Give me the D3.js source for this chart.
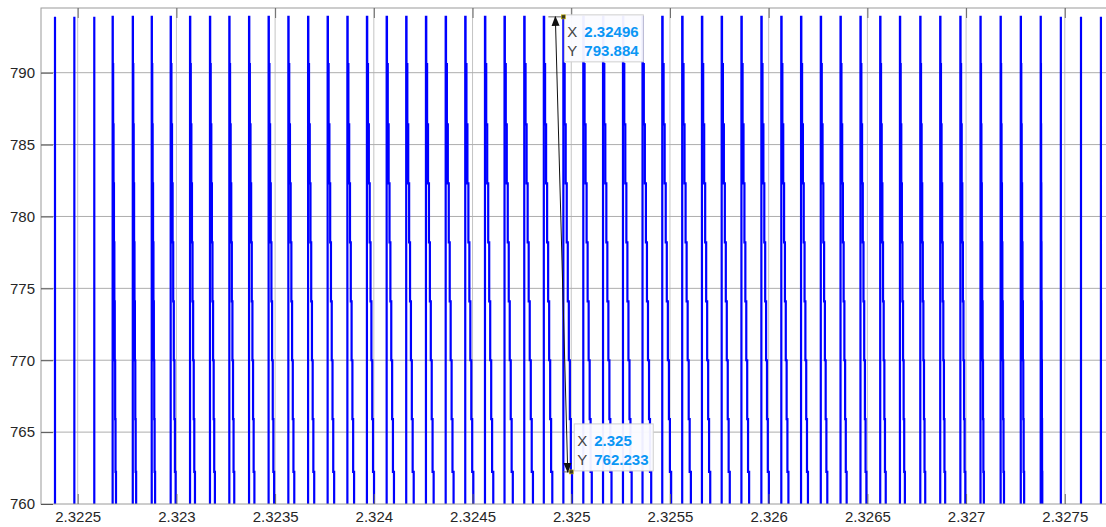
<!DOCTYPE html>
<html><head><meta charset="utf-8">
<script src="https://cdn.jsdelivr.net/npm/d3@7"></script>
<style>
html,body{margin:0;padding:0;background:#fff;overflow:hidden}
svg{display:block}
text{font-family:"Liberation Sans",Arial,Helvetica,sans-serif}
</style></head><body>
<svg id="chart" width="1106" height="527"></svg>
<script>
// Rise instants of each pulse (s)
const pulseTimes = [
  2.322385, 2.322483, 2.322584, 2.322677, 2.322779, 2.322875, 2.322971, 2.323069, 2.323170, 2.323268,
  2.323368, 2.323467, 2.323567, 2.323667, 2.323766, 2.323866, 2.323965, 2.324065, 2.324164, 2.324264,
  2.324364, 2.324463, 2.324563, 2.324662, 2.324762, 2.324861, 2.324960, 2.325061, 2.325161, 2.325262,
  2.325361, 2.325461, 2.325562, 2.325662, 2.325762, 2.325862, 2.325963, 2.326064, 2.326164, 2.326264,
  2.326364, 2.326465, 2.326565, 2.326665, 2.326768, 2.326869, 2.326971, 2.327073, 2.327175, 2.327277,
  2.327378, 2.327480, 2.327582, 2.327683
];
// Duration of the falling staircase of each pulse (µs)
const fallDurations = [
  0, 0, 0, 17, 17, 17, 25, 25, 25, 25,
  27, 28, 30, 31, 33, 34, 36, 37, 38, 39,
  40, 41, 42, 42, 44, 43, 44, 43, 43, 44,
  44, 45, 44, 42, 41, 39, 38, 36, 35, 33,
  31, 30, 28, 25, 25, 25, 25, 17, 17, 17,
  8, 0, 0, 0
];
const peakLevel = 793.884;
// Held levels on the way down and where in the fall each step occurs
const stepLevels = [790.6, 786.4, 782.3, 778.2, 774.1, 770.0, 765.9, 762.233];
const stepFractions = [0.04, 0.15, 0.27, 0.39, 0.51, 0.63, 0.75, 0.86];
const baseLevel = 752;

const xTicks = [2.3225, 2.323, 2.3235, 2.324, 2.3245, 2.325, 2.3255, 2.326, 2.3265, 2.327, 2.3275];
const yTicks = [760, 765, 770, 775, 780, 785, 790];

// Data tips
const tipX = [2.32496, 2.325];
const tipY = [793.884, 762.233];
const tipXText = ["2.32496", "2.325"];
const tipYText = ["793.884", "762.233"];

// ---- build the sampled waveform ----
const series = [];
pulseTimes.forEach((t, k) => {
  const w = fallDurations[k] * 1e-6;
  series.push([t, baseLevel], [t, peakLevel]);
  let prev = peakLevel;
  stepLevels.forEach((lv, i) => {
    const ts = t + stepFractions[i] * w;
    series.push([ts, prev], [ts, lv]);
    prev = lv;
  });
  series.push([t + w, prev], [t + w, baseLevel]);
});

// ---- layout ----
const mLeft = 41, mTop = 8, mBottom = 504, mRight = 1118;
const svg = d3.select("#chart");

const x = d3.scaleLinear().domain([2.3223141, 2.3277695]).range([mLeft, mRight]);
const y = d3.scaleLinear().domain([760, 794.5]).range([mBottom, mTop]);

const defs = svg.append("defs");
defs.append("clipPath").attr("id", "plotclip")
  .append("rect").attr("x", mLeft).attr("y", mTop).attr("width", mRight - mLeft).attr("height", mBottom - mTop);

// grid
const grid = svg.append("g");
grid.selectAll("line.vg").data(xTicks).join("line").attr("class", "vg")
  .attr("x1", d => x(d)).attr("x2", d => x(d)).attr("y1", mTop).attr("y2", mBottom)
  .attr("stroke", "#c4c4c4").attr("stroke-width", 1);
grid.selectAll("line.hg").data(yTicks.slice(1)).join("line").attr("class", "hg")
  .attr("x1", mLeft).attr("x2", mRight).attr("y1", d => y(d)).attr("y2", d => y(d))
  .attr("stroke", "#adadad").attr("stroke-width", 1);

// waveform
const line = d3.line().x(d => x(d[0])).y(d => y(d[1]));
svg.append("path").datum(series)
  .attr("clip-path", "url(#plotclip)")
  .attr("d", line)
  .attr("fill", "none").attr("stroke", "#0000ff").attr("stroke-width", 2.2)
  .attr("stroke-linejoin", "miter");

// axes box
svg.append("rect").attr("x", mLeft).attr("y", mTop).attr("width", mRight - mLeft).attr("height", mBottom - mTop)
  .attr("fill", "none").attr("stroke", "#9a9a9a").attr("stroke-width", 1);

// x axis (ticks inward) with top ticks
const xAxis = d3.axisBottom(x).tickValues(xTicks).tickSize(-10).tickPadding(7)
  .tickFormat(d => String(+d.toFixed(4)));
const gx = svg.append("g").attr("transform", `translate(0,${mBottom})`).call(xAxis);
gx.select(".domain").remove();
gx.selectAll(".tick line").attr("stroke", "#6a6a6a");
gx.selectAll(".tick text").attr("fill", "#262626").attr("font-size", 15)
  .attr("font-family", '"Liberation Sans",Arial,sans-serif');

const gxTop = svg.append("g").attr("transform", `translate(0,${mTop})`)
  .call(d3.axisTop(x).tickValues(xTicks).tickSize(-10).tickFormat(""));
gxTop.select(".domain").remove();
gxTop.selectAll(".tick line").attr("stroke", "#6a6a6a");

// y axis
const yAxis = d3.axisLeft(y).tickValues(yTicks).tickSize(-12).tickPadding(6);
const gy = svg.append("g").attr("transform", `translate(${mLeft},0)`).call(yAxis);
gy.select(".domain").remove();
gy.selectAll(".tick line").attr("stroke", "#555");
gy.selectAll(".tick text").attr("fill", "#262626").attr("font-size", 15)
  .attr("font-family", '"Liberation Sans",Arial,sans-serif');

// double-headed measuring arrow
const arrow = svg.append("g");
defs.append("marker").attr("id", "ahead").attr("viewBox", "0 0 10 10")
  .attr("refX", 9).attr("refY", 5).attr("markerWidth", 10).attr("markerHeight", 10)
  .attr("markerUnits", "userSpaceOnUse").attr("orient", "auto-start-reverse")
  .append("path").attr("d", "M0,1 L10,5 L0,9 Z").attr("fill", "#111");
const ax1 = x(tipX[0]) - 8, ay1 = y(tipY[0]);
const ax2 = x(tipX[1]) - 3.5, ay2 = y(tipY[1]);
arrow.append("line").attr("x1", x(tipX[0]) - 15).attr("x2", x(tipX[0])).attr("y1", ay1).attr("y2", ay1)
  .attr("stroke", "#666").attr("stroke-width", 1);
arrow.append("line").attr("x1", x(tipX[1]) - 8).attr("x2", x(tipX[1])).attr("y1", ay2).attr("y2", ay2)
  .attr("stroke", "#666").attr("stroke-width", 1);
arrow.append("line").attr("x1", ax1).attr("y1", ay1).attr("x2", ax2).attr("y2", ay2)
  .attr("stroke", "#111").attr("stroke-width", 1)
  .attr("marker-start", "url(#ahead)").attr("marker-end", "url(#ahead)");

// data tips
const tipOffsets = [[1, -2], [3, -48]];
tipX.forEach((tx, i) => {
  const mx = x(tx), my = y(tipY[i]);
  const g = svg.append("g").attr("transform", `translate(${mx + tipOffsets[i][0]},${my + tipOffsets[i][1]})`);
  g.append("rect").attr("width", 79).attr("height", 47)
    .attr("fill", "#fbfbff").attr("fill-opacity", 0.95).attr("stroke", "#cfcfcf").attr("stroke-width", 1);
  g.append("text").attr("x", 3).attr("y", 22).attr("font-size", 15).attr("fill", "#444").text("X");
  g.append("text").attr("x", 20).attr("y", 22).attr("font-size", 15).attr("font-weight", "bold")
    .attr("fill", "#0a96f5").text(tipXText[i]);
  g.append("text").attr("x", 3).attr("y", 41).attr("font-size", 15).attr("fill", "#444").text("Y");
  g.append("text").attr("x", 20).attr("y", 41).attr("font-size", 15).attr("font-weight", "bold")
    .attr("fill", "#0a96f5").text(tipYText[i]);
  svg.append("rect").attr("x", mx - 2).attr("y", my - 2).attr("width", 4).attr("height", 4)
    .attr("fill", "#3a3a20").attr("stroke", "#c8b400").attr("stroke-width", 0.6);
});
</script>
</body></html>
